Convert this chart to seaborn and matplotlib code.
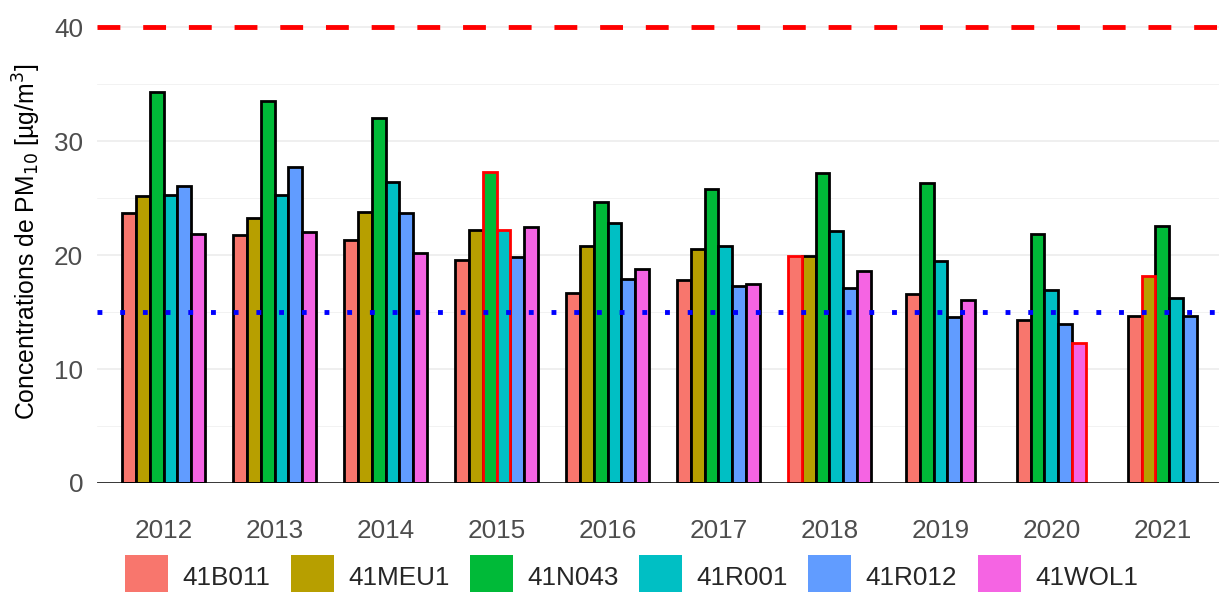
import numpy as np
import pandas as pd
import matplotlib
matplotlib.use("Agg")
import matplotlib.pyplot as plt
import seaborn as sns
from matplotlib.patches import Patch

years = ["2012", "2013", "2014", "2015", "2016", "2017", "2018", "2019", "2020", "2021"]
stations = ["41B011", "41MEU1", "41N043", "41R001", "41R012", "41WOL1"]
colors = ["#F8766D", "#B79F00", "#00BA38", "#00BFC4", "#619CFF", "#F564E3"]

nan = np.nan
b011 = [23.7, 21.8, 21.3, 19.6, 16.7, 17.8, 19.9, 16.6, 14.3, 14.7]
meu1 = [25.2, 23.3, 23.8, 22.2, 20.8, 20.5, 19.9, nan, nan, 18.2]
n043 = [34.3, 33.5, 32.0, 27.3, 24.7, 25.8, 27.2, 26.3, 21.9, 22.6]
r001 = [25.3, 25.3, 26.4, 22.2, 22.8, 20.8, 22.1, 19.5, 16.9, 16.2]
r012 = [26.1, 27.7, 23.7, 19.8, 17.9, 17.3, 17.1, 14.6, 14.0, 14.7]
wol1 = [21.9, 22.0, 20.2, 22.5, 18.8, 17.5, 18.6, 16.1, 12.3, nan]

# bars with incomplete data (red outline)
flagged = [("2015", "41N043"), ("2015", "41R001"), ("2018", "41B011"),
           ("2020", "41WOL1"), ("2021", "41MEU1")]

eu_limit = 40
who_guideline = 15

rows = []
for st, vals in zip(stations, [b011, meu1, n043, r001, r012, wol1]):
    for yr, v in zip(years, vals):
        rows.append({"year": yr, "station": st, "value": v})
df = pd.DataFrame(rows).dropna()

sns.set_theme(style="whitegrid")
plt.rcParams["font.family"] = ["Liberation Sans", "DejaVu Sans"]

fig = plt.figure(figsize=(12.19, 5.92), dpi=100)
ax = fig.add_axes([97 / 1219, 1 - 483 / 592, 1 - 97 / 1219, 483 / 592])

bar_w = 0.125
sns.barplot(data=df, x="year", y="value", hue="station", order=years, hue_order=stations,
            palette=colors, width=bar_w * 6, gap=0, errorbar=None, legend=False,
            edgecolor="black", linewidth=2, saturation=1, ax=ax)

# ggplot-style dodge: centre the bars present in each year
groups = {}
for st, cont in zip(stations, ax.containers):
    for p in cont.patches:
        idx = int(round(p.get_x() + p.get_width() / 2))
        groups.setdefault(idx, []).append((stations.index(st), st, p))
for idx, items in groups.items():
    items.sort(key=lambda t: t[0])
    n = len(items)
    for k, (_, st, p) in enumerate(items):
        p.set_width(bar_w)
        p.set_x(idx - n * bar_w / 2 + k * bar_w)
        if (years[idx], st) in flagged:
            p.set_edgecolor("red")
            p.set_zorder(3)

ax.axhline(eu_limit, color="red", linestyle=(0, (4.7, 4.7)), linewidth=3.5, zorder=4)
ax.axhline(who_guideline, color="blue", linestyle=(0, (1, 3.67)), linewidth=3.5, zorder=4)
ax.axhline(0, color="black", linewidth=1.8, zorder=5)

ax.set_xlim(-0.6, 9.51)
ax.set_ylim(0, 42.4)
ax.set_yticks([0, 10, 20, 30, 40])
ax.set_yticks([5, 15, 25, 35], minor=True)
ax.grid(axis="x", visible=False)
ax.grid(axis="y", which="major", color="#EBEBEB", linewidth=1.1)
ax.grid(axis="y", which="minor", color="#F2F2F2", linewidth=0.7)
for s in ax.spines.values():
    s.set_visible(False)

ax.tick_params(axis="x", length=0, pad=26, labelsize=18.8, labelcolor="#4D4D4D")
ax.tick_params(axis="y", which="both", length=0, pad=10, labelsize=18.8, labelcolor="#4D4D4D")
ax.set_xlabel("")
ax.set_ylabel(r"Concentrations de PM$_{10}$ [µg/m$^3$]", fontsize=17.8, color="black", labelpad=8)

handles = [Patch(facecolor=c, edgecolor="none", label=s) for s, c in zip(stations, colors)]
fig.legend(handles=handles, loc="lower center", bbox_to_anchor=(0.518, -0.031), ncol=6,
           frameon=False, fontsize=18.8, handlelength=1.65, handleheight=2.1,
           handletextpad=0.55, columnspacing=0.78, borderpad=0)

fig.savefig("out.png", dpi=100)
